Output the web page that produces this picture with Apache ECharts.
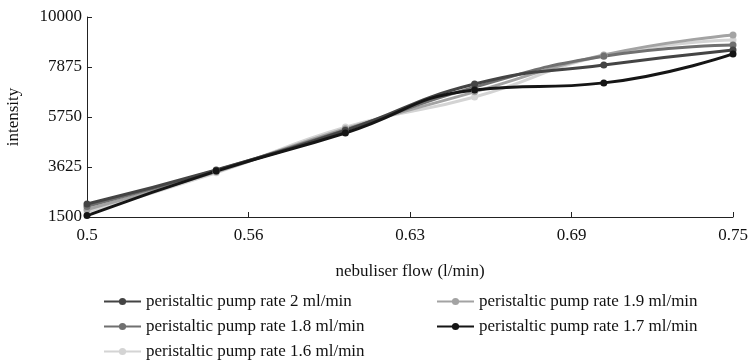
<!DOCTYPE html>
<html>
<head>
<meta charset="utf-8">
<script src="https://cdn.jsdelivr.net/npm/echarts@6/dist/echarts.min.js"></script>
<style>
  html, body { margin: 0; padding: 0; background: #fff; }
  #chart { width: 753px; height: 363px; }
</style>
</head>
<body>
<div id="chart"></div>
<script>
const flow = [0.5, 0.55, 0.6, 0.65, 0.7, 0.75];

const rate20 = [2050, 3500, 5180, 7150, 7960, 8600];
const rate18 = [1950, 3480, 5200, 7020, 8330, 8810];
const rate16 = [1720, 3380, 5320, 6600, 8360, 9020];
const rate19 = [1820, 3420, 5250, 6820, 8390, 9240];
const rate17 = [1560, 3450, 5070, 6900, 7200, 8430];

const xTicks = [0.5, 0.5625, 0.625, 0.6875, 0.75];
const xTickLabels = ["0.5", "0.56", "0.63", "0.69", "0.75"];
const yTicks = [1500, 3625, 5750, 7875, 10000];

// serif face, like the reference
const font = "'Liberation Serif', serif";
const ink = "#111";
const size = 17;

function pairs(vals) {
  return flow.map((x, i) => [x, vals[i]]);
}

function line(name, vals, color) {
  return {
    name: name,
    type: "line",
    smooth: true,
    data: pairs(vals),
    symbol: "circle",
    symbolSize: 7,
    lineStyle: { width: 3, color: color },
    itemStyle: { color: color },
  };
}

const legendBase = {
  top: 293,
  orient: "vertical",
  padding: 0,
  itemWidth: 37,
  itemHeight: 9,
  itemGap: 8,
  textStyle: { fontFamily: font, fontSize: size, color: ink },
};

const chart = echarts.init(document.getElementById("chart"));

const option = {
  animation: false,
  textStyle: { fontFamily: font },
  grid: { left: 87, right: 20, top: 17, bottom: 146, outerBoundsMode: "none" },
  legend: [
    Object.assign({}, legendBase, {
      left: 103,
      data: ["peristaltic pump rate 2 ml/min", "peristaltic pump rate 1.8 ml/min", "peristaltic pump rate 1.6 ml/min"],
    }),
    Object.assign({}, legendBase, {
      left: 436,
      data: ["peristaltic pump rate 1.9 ml/min", "peristaltic pump rate 1.7 ml/min"],
    }),
  ],
  xAxis: {
    type: "value",
    min: 0.5,
    max: 0.75,
    name: "nebuliser flow (l/min)",
    nameLocation: "middle",
    nameGap: 46,
    nameTextStyle: { fontFamily: font, fontSize: size, color: ink },
    axisLine: { lineStyle: { color: "#222" } },
    axisTick: { inside: true, length: 5, customValues: xTicks, lineStyle: { color: "#222" } },
    axisLabel: {
      customValues: xTicks,
      fontFamily: font,
      fontSize: size,
      color: ink,
      margin: 10,
      formatter: (v) => {
        const i = xTicks.findIndex((t) => Math.abs(t - v) < 1e-6);
        return i >= 0 ? xTickLabels[i] : "";
      },
    },
    splitLine: { show: false },
  },
  yAxis: {
    type: "value",
    min: 1500,
    max: 10000,
    name: "intensity",
    nameLocation: "middle",
    nameGap: 65,
    nameTextStyle: { fontFamily: font, fontSize: size, color: ink },
    axisLine: { show: true, lineStyle: { color: "#222" } },
    axisTick: { show: true, inside: true, length: 5, customValues: yTicks, lineStyle: { color: "#222" } },
    axisLabel: {
      customValues: yTicks,
      fontFamily: font,
      fontSize: size,
      color: ink,
      margin: 5,
      formatter: (v) => String(v),
    },
    splitLine: { show: false },
  },
  series: [
    line("peristaltic pump rate 1.6 ml/min", rate16, "#d4d4d4"),
    line("peristaltic pump rate 1.9 ml/min", rate19, "#a3a3a3"),
    line("peristaltic pump rate 1.8 ml/min", rate18, "#707070"),
    line("peristaltic pump rate 2 ml/min", rate20, "#444444"),
    line("peristaltic pump rate 1.7 ml/min", rate17, "#151515"),
  ],
};

chart.setOption(option);
</script>
</body>
</html>
